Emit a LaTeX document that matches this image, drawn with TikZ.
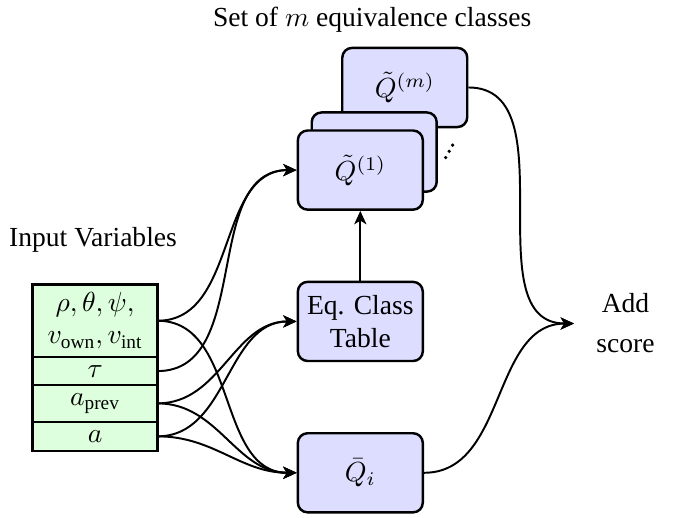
\documentclass[tikz,border=0pt]{standalone}
\usepackage{fix-cm}
\usepackage{amsmath}
\usepackage[no-math]{fontspec}
\setmainfont{Liberation Serif}
\usetikzlibrary{positioning,arrows.meta}

\definecolor{inputgreen}{RGB}{221,255,221}
\definecolor{classblue}{RGB}{221,221,255}

\begin{document}
\begin{tikzpicture}
[
	font=\fontsize{11.3}{13.4}\selectfont,
	invar/.style={draw,line width=1pt,fill=inputgreen,minimum width=1.8cm,inner sep=0pt,outer sep=0pt,align=center},
	block/.style={draw,line width=1pt,fill=classblue,rounded corners=4pt,minimum width=1.8cm,minimum height=1.14cm,align=center},
	link/.style={thick,-{Stealth[length=5.5pt,width=5pt,inset=1.5pt]}}
]
	\useasboundingbox (0,0) rectangle (9.78,7.45);

	% titles
	\node (invars) at (1.34,3.99) {Input Variables};
	\node (settitle) at (5.36,7.17) {Set of $m$ equivalence classes};

	% input table
	\node[invar,minimum height=1.05cm] (rho) at (1.37,2.83) {$\rho, \theta, \psi,$\\$v_{\text{own}}, v_{\text{int}}$};
	\node[invar,minimum height=0.40cm,below=0pt of rho] (tau) {$\tau$};
	\node[invar,minimum height=0.53cm,below=0pt of tau] (aprev) {$a_{\text{prev}}$};
	\node[invar,minimum height=0.42cm,below=0pt of aprev] (act) {$a$};

	% equivalence classes
	\node[block] (qm) at (5.83,6.19) {$\tilde{Q}^{(m)}$};
	\node[block] (qback) at (5.39,5.26) {};
	\node[block] (qone) at (5.19,5.00) {$\tilde{Q}^{(1)}$};
	\foreach \x/\y in {6.42/5.18,6.47/5.27,6.52/5.36} {
		\fill (\x,\y) circle (0.75pt);
	}

	\node[block] (eq) at (5.19,2.82) {Eq. Class\\Table};
	\node[block] (qbar) at (5.19,0.64) {$\bar{Q}_i$};

	\node[align=center,inner xsep=9pt] (add) at (9.01,2.79) {Add\\[3pt]score};

	% connections
	\draw[link] (rho.east) to[out=0,in=180] (qone.west);
	\draw[link] (tau.east) to[out=0,in=180] (qone.west);
	\draw[link] (aprev.east) to[out=0,in=180] (eq.west);
	\draw[link] (act.east) to[out=0,in=180] (eq.west);
	\draw[link] (rho.east) to[out=0,in=180] (qbar.west);
	\draw[link] (aprev.east) to[out=0,in=180] (qbar.west);
	\draw[link] (act.east) to[out=0,in=180] (qbar.west);

	\draw[link] (eq) -- (qone);

	\draw[link] (qm.east) to[out=0,in=180] (add.west);
	\draw[link] (qbar.east) to[out=0,in=180] (add.west);

\end{tikzpicture}
\end{document}
